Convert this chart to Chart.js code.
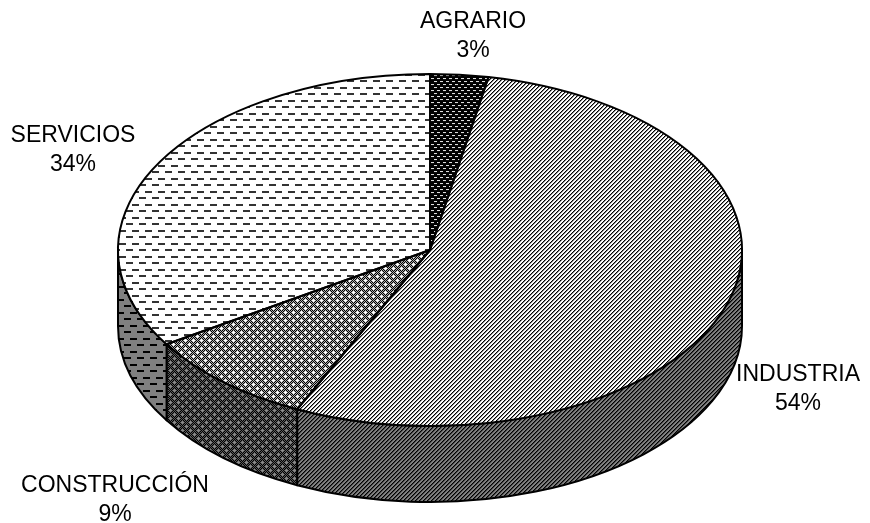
<!DOCTYPE html>
<html>
<head>
<meta charset="utf-8">
<title>Sectores</title>
<script src="https://cdn.jsdelivr.net/npm/chart.js"></script>
<style>
  body { margin: 0; background: #fff; }
  #wrap { width: 870px; height: 523px; }
</style>
</head>
<body>
<div id="wrap"><canvas id="tarta" width="870" height="523"></canvas></div>
<script>
// datos
const sectores = ['AGRARIO', 'INDUSTRIA', 'CONSTRUCCIÓN', 'SERVICIOS'];
const porcentajes = [3, 54, 9, 34];

// posicion de las etiquetas (centro x, linea base del nombre)
const etiquetaX = [473, 798, 115, 73];
const etiquetaY = [28, 381, 492, 142];

// elipse de la tarta 3d
const cx = 430, cy = 250, rx = 312, ry = 176, fondo = 76;

const ctx = document.getElementById('tarta').getContext('2d');

function trama(w, h, fondoColor, dibuja) {
    const c = document.createElement('canvas');
    c.width = w; c.height = h;
    const g = c.getContext('2d');
    g.fillStyle = fondoColor;
    g.fillRect(0, 0, w, h);
    dibuja(g);
    return ctx.createPattern(c, 'repeat');
}

function diagonal(g, oscuro, medio) {
    for (let i = 0; i < 4; i++) {
        g.fillStyle = oscuro; g.fillRect(3 - i, i, 1, 1);
        g.fillStyle = medio; g.fillRect((4 - i) % 4, i, 1, 1);
    }
}

function cuadros(g, a, b, cruz) {
    for (let y = 0; y < 8; y++)
        for (let x = 0; x < 8; x++) {
            g.fillStyle = (x + y) % 2 ? a : b;
            g.fillRect(x, y, 1, 1);
        }
    g.fillStyle = cruz;
    [[2, 2], [6, 6]].forEach(p => {
        g.fillRect(p[0] - 1, p[1], 3, 1);
        g.fillRect(p[0], p[1] - 1, 1, 3);
    });
}

function rayas(g, color) {
    g.fillStyle = color;
    g.fillRect(0, 0, 7, 2);
    g.fillRect(7, 6, 6, 2);
    g.fillRect(0, 6, 1, 2);
}

// caras de arriba
const arriba = [
    trama(6, 6, '#000', g => {
        g.fillStyle = '#ddd';
        g.fillRect(1, 1, 3, 1);
        g.fillRect(4, 4, 2, 1);
        g.fillRect(0, 4, 1, 1);
    }),
    trama(4, 4, '#fff', g => diagonal(g, '#000', '#888')),
    trama(8, 8, '#fff', g => cuadros(g, '#000', '#b0b0b0', '#fff')),
    trama(13, 13, '#fff', g => rayas(g, '#333'))
];
// caras laterales
const lado = [
    trama(6, 6, '#000', g => {
        g.fillStyle = '#888';
        g.fillRect(1, 1, 3, 1);
    }),
    trama(4, 4, '#808080', g => diagonal(g, '#000', '#404040')),
    trama(8, 8, '#333', g => cuadros(g, '#000', '#5a5a5a', '#8a8a8a')),
    trama(13, 13, '#808080', g => rayas(g, '#000'))
];

const tarta3d = {
    id: 'tarta3d',
    beforeDatasetsDraw(chart) {
        const c = chart.ctx;
        const arcos = chart.getDatasetMeta(0).data;
        // paredes de delante
        arcos.forEach((arco, i) => {
            const a = Math.max(arco.startAngle, 0);
            const b = Math.min(arco.endAngle, Math.PI);
            if (a >= b) return;
            c.beginPath();
            c.ellipse(cx, cy, rx, ry, 0, a, b);
            c.ellipse(cx, cy + fondo, rx, ry, 0, b, a, true);
            c.closePath();
            c.fillStyle = lado[i];
            c.fill();
            c.lineWidth = 2;
            c.lineJoin = 'round';
            c.strokeStyle = '#000';
            c.stroke();
        });
        const a0 = arcos[0];
        const sx = rx / a0.outerRadius, sy = ry / a0.outerRadius;
        arriba.forEach(p => p.setTransform(new DOMMatrix([1 / sx, 0, 0, 1 / sy, 0, 0])));
        c.save();
        c.translate(cx, cy);
        c.scale(sx, sy);
        c.translate(-a0.x, -a0.y);
    },
    afterDatasetsDraw(chart) {
        const c = chart.ctx;
        c.restore();
        const arcos = chart.getDatasetMeta(0).data;
        c.lineWidth = 2;
        c.lineJoin = 'round';
        c.strokeStyle = '#000';
        arcos.forEach(arco => {
            c.beginPath();
            c.moveTo(cx, cy);
            c.ellipse(cx, cy, rx, ry, 0, arco.startAngle, arco.endAngle);
            c.closePath();
            c.stroke();
        });
        // etiquetas
        c.fillStyle = '#000';
        c.font = '23px "Liberation Sans", Arial, sans-serif';
        c.textAlign = 'center';
        c.textBaseline = 'alphabetic';
        sectores.forEach((s, i) => {
            c.fillText(s, etiquetaX[i], etiquetaY[i]);
            c.fillText(porcentajes[i] + '%', etiquetaX[i], etiquetaY[i] + 29);
        });
    }
};

new Chart(ctx, {
    type: 'pie',
    data: {
        labels: sectores,
        datasets: [{
            data: porcentajes,
            backgroundColor: arriba,
            borderWidth: 0,
            hoverOffset: 0,
            clip: false
        }]
    },
    options: {
        responsive: false,
        animation: false,
        events: [],
        plugins: {
            legend: { display: false },
            tooltip: { enabled: false }
        }
    },
    plugins: [tarta3d]
});
</script>
</body>
</html>
